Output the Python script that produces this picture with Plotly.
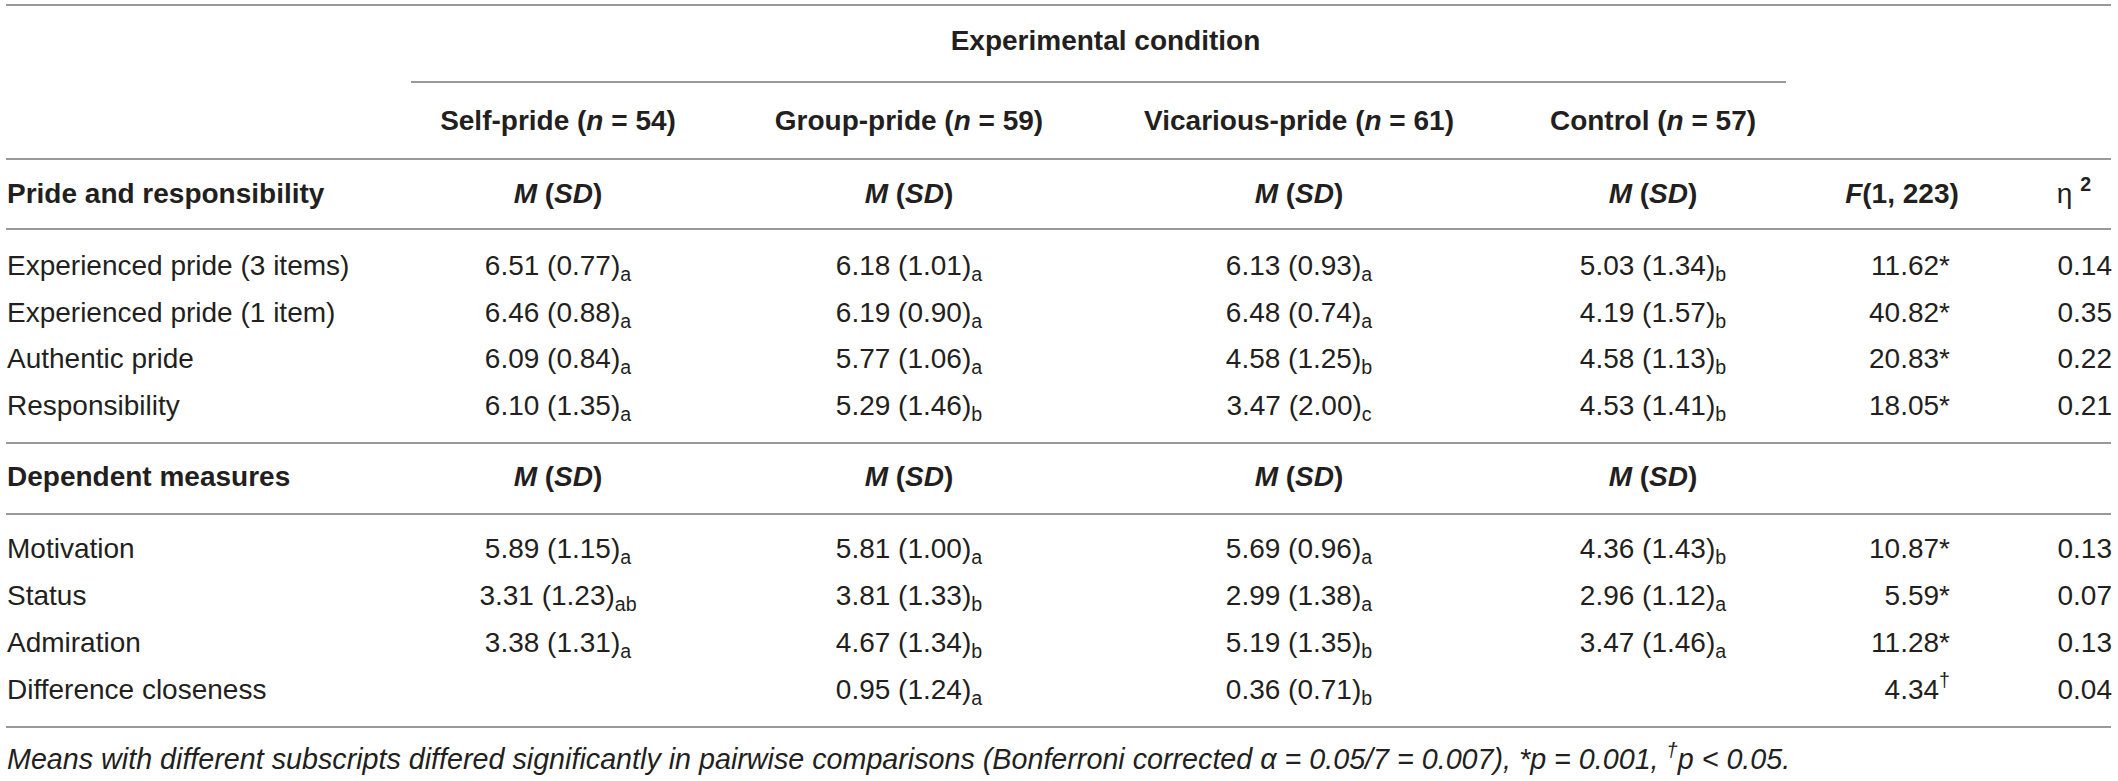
import plotly.graph_objects as go

W, H = 2118, 781
FONT = "Liberation Sans, Arial, sans-serif"
INK = "#231f20"

# ---- data ----
conditions = ["Self-pride", "Group-pride", "Vicarious-pride", "Control"]
cond_n = [54, 59, 61, 57]

pride_rows = ["Experienced pride (3 items)", "Experienced pride (1 item)",
              "Authentic pride", "Responsibility"]
dep_rows = ["Motivation", "Status", "Admiration", "Difference closeness"]

self_m = [6.51, 6.46, 6.09, 6.10, 5.89, 3.31, 3.38, None]
self_sd = [0.77, 0.88, 0.84, 1.35, 1.15, 1.23, 1.31, None]
self_sub = ["a", "a", "a", "a", "a", "ab", "a", None]

group_m = [6.18, 6.19, 5.77, 5.29, 5.81, 3.81, 4.67, 0.95]
group_sd = [1.01, 0.90, 1.06, 1.46, 1.00, 1.33, 1.34, 1.24]
group_sub = ["a", "a", "a", "b", "a", "b", "b", "a"]

vic_m = [6.13, 6.48, 4.58, 3.47, 5.69, 2.99, 5.19, 0.36]
vic_sd = [0.93, 0.74, 1.25, 2.00, 0.96, 1.38, 1.35, 0.71]
vic_sub = ["a", "a", "b", "c", "a", "a", "b", "b"]

ctrl_m = [5.03, 4.19, 4.58, 4.53, 4.36, 2.96, 3.47, None]
ctrl_sd = [1.34, 1.57, 1.13, 1.41, 1.43, 1.12, 1.46, None]
ctrl_sub = ["b", "b", "b", "b", "b", "a", "a", None]

f_vals = [11.62, 40.82, 20.83, 18.05, 10.87, 5.59, 11.28, 4.34]
f_mark = ["*", "*", "*", "*", "*", "*", "*", "<sup>†</sup>"]
eta_sq = [0.14, 0.35, 0.22, 0.21, 0.13, 0.07, 0.13, 0.04]

footnote = ("<i>Means with different subscripts differed significantly in pairwise "
            "comparisons (Bonferroni corrected α = 0.05/7 = 0.007), *p = 0.001, "
            "<sup>†</sup>p &lt; 0.05.</i>")

# ---- layout geometry ----
col_x = [558, 909, 1299, 1653]
f_head_x, f_right = 1902, 1950
eta_head_x, eta_right = 2074, 2112
label_x = 7
y_exp, y_head, y_pride, y_dep, y_foot = 43, 123, 196, 479, 762
body_y = [268, 315, 361, 408, 551, 598, 645, 692]
full_lines = [5, 159, 229, 443, 514, 727]


def cell(m, sd, s):
    if m is None:
        return ""
    return f"{m:.2f} ({sd:.2f})<sub>{s}</sub>"


fig = go.Figure()


def text(xs, ys, labels, pos, size=28):
    fig.add_trace(go.Scatter(
        x=xs, y=ys, text=labels, mode="text", textposition=pos,
        textfont=dict(family=FONT, size=size, color=INK),
        cliponaxis=False, hoverinfo="skip", showlegend=False))


# rules
for y in full_lines:
    fig.add_trace(go.Scatter(x=[6, 2111], y=[y, y], mode="lines",
                             line=dict(color="#999999", width=2),
                             hoverinfo="skip", showlegend=False))
fig.add_trace(go.Scatter(x=[411, 1786], y=[82, 82], mode="lines",
                         line=dict(color="#999999", width=2),
                         hoverinfo="skip", showlegend=False))

# headers
text([(col_x[0] + col_x[3]) / 2], [y_exp], ["<b>Experimental condition</b>"], "middle center")
text(col_x, [y_head] * 4,
     [f"<b>{c} (<i>n</i> = {n})</b>" for c, n in zip(conditions, cond_n)],
     "middle center")
msd = "<b><i>M</i> (<i>SD</i>)</b>"
text([label_x], [y_pride], ["<b>Pride and responsibility</b>"], "middle right")
text(col_x, [y_pride] * 4, [msd] * 4, "middle center")
text([f_head_x], [y_pride], ["<b><i>F</i>(1, 223)</b>"], "middle center")
text([eta_head_x], [y_pride], ["η <b><sup>2</sup></b>"], "middle center")
text([label_x], [y_dep], ["<b>Dependent measures</b>"], "middle right")
text(col_x, [y_dep] * 4, [msd] * 4, "middle center")

# body
text([label_x] * 8, body_y, pride_rows + dep_rows, "middle right")
for cx, ms, sds, subs in zip(col_x,
                             [self_m, group_m, vic_m, ctrl_m],
                             [self_sd, group_sd, vic_sd, ctrl_sd],
                             [self_sub, group_sub, vic_sub, ctrl_sub]):
    text([cx] * 8, body_y, [cell(m, s, b) for m, s, b in zip(ms, sds, subs)], "middle center")
text([f_right] * 8, body_y, [f"{v:.2f}{k}" for v, k in zip(f_vals, f_mark)], "middle left")
text([eta_right] * 8, body_y, [f"{v:.2f}" for v in eta_sq], "middle left")

# footnote
text([label_x], [y_foot], [footnote], "middle right", size=28.7)

fig.update_layout(
    width=W, height=H,
    margin=dict(l=0, r=0, t=0, b=0),
    paper_bgcolor="white", plot_bgcolor="white",
    xaxis=dict(range=[0, W], visible=False, fixedrange=True),
    yaxis=dict(range=[H, 0], visible=False, fixedrange=True),
    showlegend=False,
)

fig.write_html("out.html",
               config={"displayModeBar": False},
               post_script="document.body.style.margin='0';document.body.style.overflow='hidden';")
